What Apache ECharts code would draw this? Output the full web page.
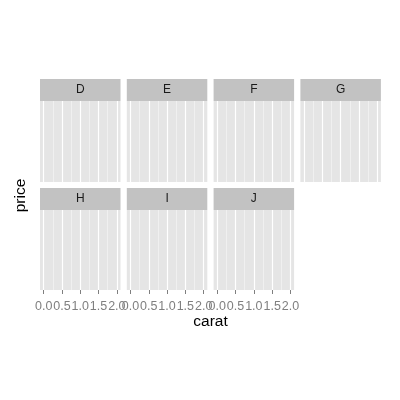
<!DOCTYPE html>
<html>
<head>
<meta charset="utf-8">
<script src="https://cdn.jsdelivr.net/npm/echarts@6/dist/echarts.min.js"></script>
<style>html,body{margin:0;padding:0;background:#fff;}#c{width:400px;height:400px;}</style>
</head>
<body>
<div id="c"></div>
<script>
// ---- data ----
const facets = ['D', 'E', 'F', 'G', 'H', 'I', 'J'];
const xRange = [-0.1, 2.1];
const xTicks = [0, 0.5, 1, 1.5, 2];
const xTickLabels = ['0.0', '0.5', '1.0', '1.5', '2.0'];
const xMinorTicks = [0.25, 0.75, 1.25, 1.75];
const xTitle = 'carat';
const yTitle = 'price';

// ---- layout ----
const FONT = 'Liberation Sans, Arial, Helvetica, sans-serif';
const nCol = 4;
const lastRow = Math.floor((facets.length - 1) / nCol);
const colLeft = [40, 126.8, 213.6, 300.4];
const panelW = 80.5;
const stripTop = [79, 188];
const stripH = 22;
const panelH = [81, 80];

const grids = [], xAxes = [], yAxes = [], series = [], graphics = [];
facets.forEach((f, i) => {
  const r = Math.floor(i / nCol), c = i % nCol;
  const left = colLeft[c];
  const top = stripTop[r] + stripH;
  const isBottom = r === lastRow;
  grids.push({
    left: left, top: top, width: panelW, height: panelH[r],
    show: true, backgroundColor: '#E5E5E5', borderWidth: 0, containLabel: false
  });
  // minor grid axis
  xAxes.push({
    type: 'value', gridIndex: i, min: xRange[0], max: xRange[1],
    axisLine: {show: false}, axisLabel: {show: false},
    axisTick: {show: false, customValues: xMinorTicks},
    splitLine: {show: true, lineStyle: {color: '#F2F2F2', width: 0.8}}
  });
  // major grid axis
  xAxes.push({
    type: 'value', gridIndex: i, min: xRange[0], max: xRange[1], position: 'bottom',
    axisLine: {show: false},
    axisTick: {show: isBottom, customValues: xTicks, length: 4, lineStyle: {color: '#7F7F7F', width: 1}},
    axisLabel: {
      show: isBottom, customValues: xTicks, margin: 10,
      color: '#7F7F7F', fontSize: 12.5, fontFamily: FONT,
      formatter: v => xTickLabels[xTicks.findIndex(t => Math.abs(t - v) < 1e-9)]
    },
    splitLine: {show: true, lineStyle: {color: '#FFFFFF', width: 1.2}}
  });
  yAxes.push({
    type: 'value', gridIndex: i, min: 0, max: 1, show: false,
    splitLine: {show: false}
  });
  series.push({type: 'scatter', xAxisIndex: 2 * i + 1, yAxisIndex: i, data: []});
  // strip
  graphics.push({
    type: 'rect', shape: {x: left, y: stripTop[r], width: panelW, height: stripH},
    style: {fill: '#C2C2C2'}, silent: true
  });
  graphics.push({
    type: 'text', x: left + panelW / 2, y: stripTop[r] + stripH / 2,
    style: {text: f, fill: '#1A1A1A', font: '12px ' + FONT, align: 'center', verticalAlign: 'middle'},
    silent: true
  });
});

graphics.push({
  type: 'text', x: 210.5, y: 322,
  style: {text: xTitle, fill: '#000', font: '15.5px ' + FONT, align: 'center', verticalAlign: 'middle'},
  silent: true
});
graphics.push({
  type: 'text', x: 20.5, y: 195.5, rotation: Math.PI / 2,
  style: {text: yTitle, fill: '#000', font: '15.5px ' + FONT, align: 'center', verticalAlign: 'middle'},
  silent: true
});

const chart = echarts.init(document.getElementById('c'), null, {renderer: 'canvas'});
chart.setOption({
  animation: false,
  backgroundColor: '#FFFFFF',
  grid: grids, xAxis: xAxes, yAxis: yAxes, series: series,
  graphic: graphics
});
</script>
</body>
</html>
